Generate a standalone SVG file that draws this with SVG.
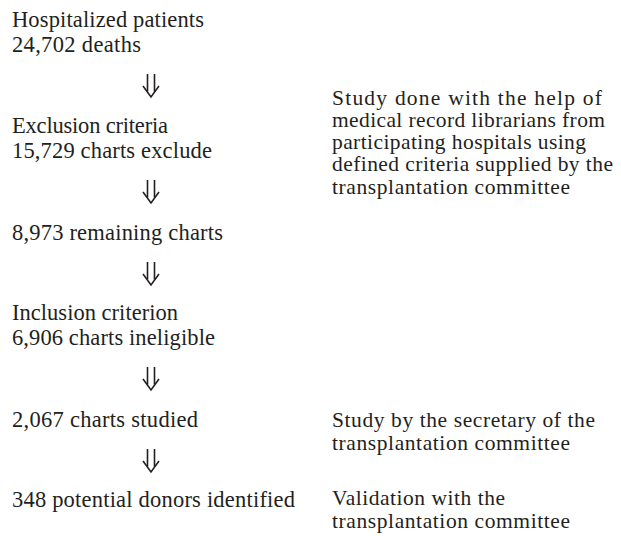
<svg xmlns="http://www.w3.org/2000/svg" width="621" height="536" viewBox="0 0 621 536">
<style>
text{font-family:"Liberation Serif","Times New Roman",serif;font-size:22.5px;fill:#231f20}
.note text{font-size:21.5px}
.arr{fill:none;stroke:#231f20;stroke-width:1.6}
</style>
<defs>
<g id="dblarrow" class="arr">
<path d="M-3.5,0 V17.5 M3.5,0 V17.5"/>
<path d="M-8,12 L0,23 L8,12"/>
</g>
</defs>
<rect width="621" height="536" fill="#fff"/>
<g id="connectors">
<use href="#dblarrow" x="151" y="74"/>
<use href="#dblarrow" x="151" y="180"/>
<use href="#dblarrow" x="151" y="262"/>
<use href="#dblarrow" x="151" y="367"/>
<use href="#dblarrow" x="151" y="449"/>
</g>
<g id="n1"><text x="12" y="27" textLength="192" lengthAdjust="spacing">Hospitalized patients</text><text x="12" y="52" textLength="129" lengthAdjust="spacing">24,702 deaths</text></g>
<g id="n2"><text x="12" y="133" textLength="156" lengthAdjust="spacing">Exclusion criteria</text><text x="12" y="158" textLength="200" lengthAdjust="spacing">15,729 charts exclude</text></g>
<g id="n3"><text x="12" y="240" textLength="211" lengthAdjust="spacing">8,973 remaining charts</text></g>
<g id="n4"><text x="12" y="320" textLength="166" lengthAdjust="spacing">Inclusion criterion</text><text x="12" y="345" textLength="203" lengthAdjust="spacing">6,906 charts ineligible</text></g>
<g id="n5"><text x="12" y="427" textLength="186" lengthAdjust="spacing">2,067 charts studied</text></g>
<g id="n6"><text x="12" y="507" textLength="283" lengthAdjust="spacing">348 potential donors identified</text></g>
<g id="note1" class="note">
<text x="332" y="104.5" textLength="270" lengthAdjust="spacing">Study done with the help of</text>
<text x="332" y="126.8" textLength="273" lengthAdjust="spacing">medical record librarians from</text>
<text x="332" y="149.1" textLength="254" lengthAdjust="spacing">participating hospitals using</text>
<text x="332" y="171.4" textLength="281" lengthAdjust="spacing">defined criteria supplied by the</text>
<text x="332" y="193.7" textLength="238" lengthAdjust="spacing">transplantation committee</text>
</g>
<g id="note2" class="note">
<text x="332" y="427" textLength="263" lengthAdjust="spacing">Study by the secretary of the</text>
<text x="332" y="449.5" textLength="238" lengthAdjust="spacing">transplantation committee</text>
</g>
<g id="note3" class="note">
<text x="332" y="505" textLength="173" lengthAdjust="spacing">Validation with the</text>
<text x="332" y="527.5" textLength="238" lengthAdjust="spacing">transplantation committee</text>
</g>
</svg>
